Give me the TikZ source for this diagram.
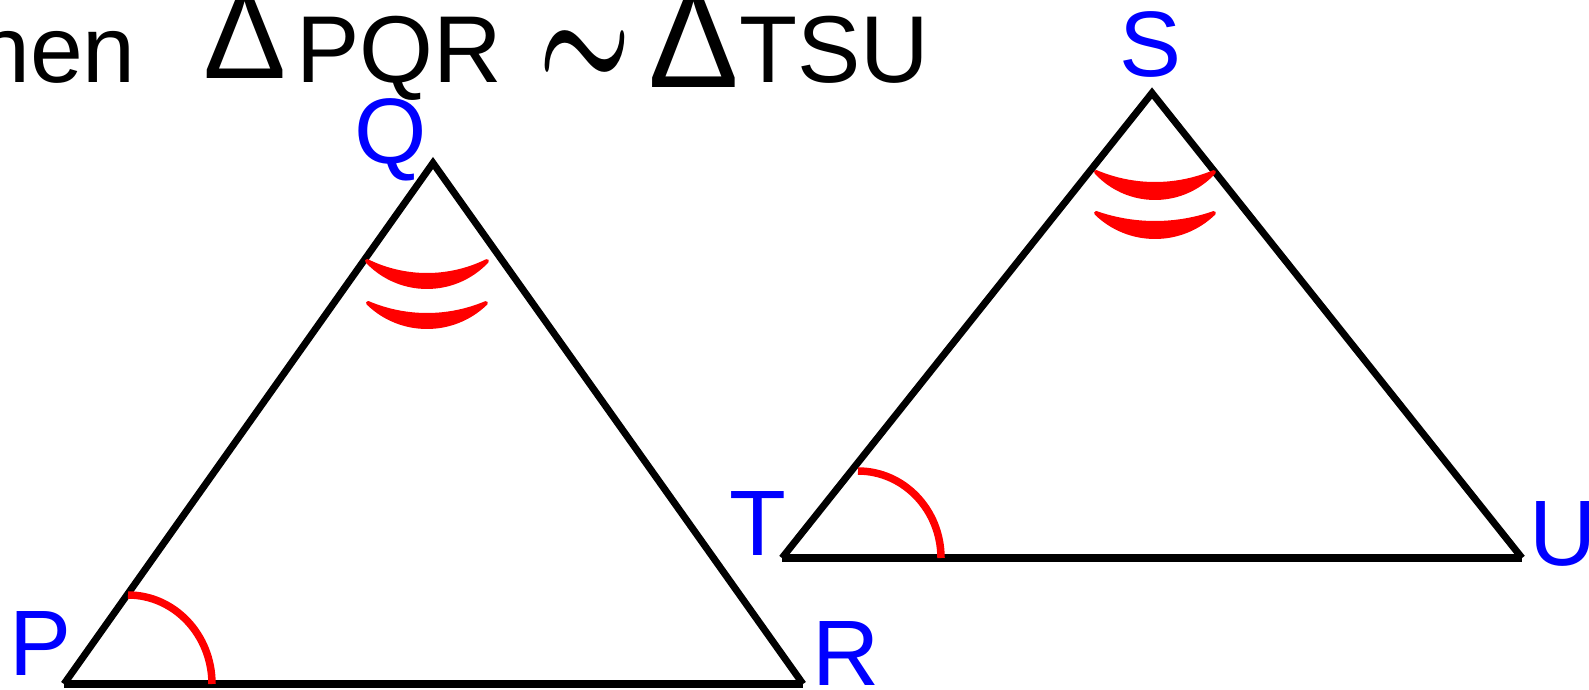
\documentclass[tikz,border=0pt]{standalone}
\usepackage{fontspec}
\setmainfont{Liberation Sans}
\newcommand\lunemark[5]{%
  \pgfmathsetmacro\lmRo{(#3*#3+#4*#4)/(2*#4)}%
  \pgfmathsetmacro\lmRi{(#3*#3+#5*#5)/(2*#5)}%
  \pgfmathsetmacro\lmAo{atan2(\lmRo-#4,#3)}%
  \pgfmathsetmacro\lmAi{atan2(\lmRi-#5,#3)}%
  \filldraw[lune] (#1-#3,#2) arc[start angle=180+\lmAo, end angle=360-\lmAo, radius=\lmRo pt]
     arc[start angle=360-\lmAi, end angle=180+\lmAi, radius=\lmRi pt] -- cycle;}
\begin{document}
\begin{tikzpicture}[x=1pt,y=-1pt,
  side/.style={line width=7pt, black, line join=miter},
  basel/.style={line width=8pt, black},
  angmark/.style={line width=7.5pt, red},
  lune/.style={fill=red, draw=red, line width=4pt, line join=round},
  vlabel/.style={text=blue, font=\fontsize{93}{100}\selectfont, inner sep=0pt},
  ttl/.style={font=\fontsize{95}{100}\selectfont, inner sep=0pt}]
\useasboundingbox (0,0) rectangle (1589,690);
% title
\node[ttl, anchor=base west] (t1) at (-23,83) {hen};
\node[ttl, anchor=base] (t2) at (245,79) {\scalebox{1.31}[1.31]{Δ}};
\node[ttl, anchor=base west] (t3) at (296,83) {PQR};
\node[inner sep=0pt, anchor=base] (t4) at (585,89) {\scalebox{10.4}[14.8]{\boldmath$\sim$}};
\node[ttl, anchor=base] (t5) at (694,88) {\scalebox{1.43}[1.46]{Δ}};
\node[ttl, anchor=base west] (t6) at (739,83) {TSU};
% vertices
\coordinate (P) at (64,684);
\coordinate (Q) at (433,163);
\coordinate (R) at (803,684);
\coordinate (T) at (782,558);
\coordinate (S) at (1152,93);
\coordinate (U) at (1522,558);
% triangles
\draw[side] (P) -- (Q) -- (R);
\draw[basel] (P) -- (R);
\draw[side] (T) -- (S) -- (U);
\draw[basel] (T) -- (U);
% angle marks
\lunemark{427}{261}{60}{26}{14}
\lunemark{427}{303}{59}{24}{12}
\lunemark{1155}{172}{59}{26}{12}
\lunemark{1155}{213}{59}{24}{10}
\coordinate (Pa) at (128,684);
\coordinate (Ta) at (858,558);
\draw[angmark] ([shift={(0pt,89pt)}]Pa) arc[start angle=90, end angle=0, x radius=84pt, y radius=89pt];
\draw[angmark] ([shift={(0pt,87pt)}]Ta) arc[start angle=90, end angle=0, x radius=83pt, y radius=87pt];
% labels
\node[vlabel, anchor=base] (lQ) at (391,163) {Q};
\node[vlabel, anchor=base] (lS) at (1150,77) {S};
\node[vlabel, anchor=base west] (lP) at (9,675) {P};
\node[vlabel, anchor=base west] (lR) at (812,685) {R};
\node[vlabel, anchor=base] (lT) at (758,555) {T};
\node[vlabel, anchor=base west] (lU) at (1529,565) {U};
\end{tikzpicture}
\end{document}
